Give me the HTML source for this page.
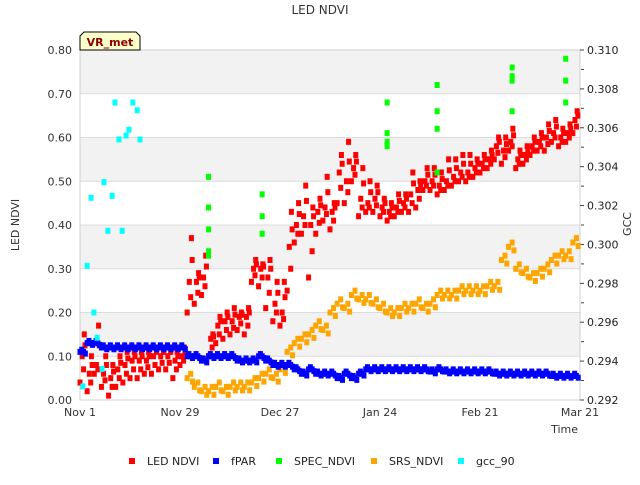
<!DOCTYPE html>
<html><head><meta charset="utf-8"><style>
body{margin:0;background:#fff;font-family:"Liberation Sans","DejaVu Sans",sans-serif}
svg text{font-family:"DejaVu Sans","Liberation Sans",sans-serif}
</style></head><body>
<svg id="chart" width="640" height="480" xmlns="http://www.w3.org/2000/svg"></svg>
<script>
const xTickLabels=["Nov 1","Nov 29","Dec 27","Jan 24","Feb 21","Mar 21"];
const xTickDays=[0,28,56,84,112,140];
const yLeftTicks=[0,0.1,0.2,0.3,0.4,0.5,0.6,0.7,0.8];
const yRightTicks=[0.292,0.294,0.296,0.298,0.300,0.302,0.304,0.306,0.308,0.310];
const ledDays=[0,2,4,6,8,10,12,14,16,18,20,22,24,26,28,30,32,34,36,38,40,42,44,46,48,50,52,54,56,58,60,62,64,66,68,70,72,74,76,78,80,82,84,86,88,90,92,94,96,98,100,102,104,106,108,110,112,114,116,118,120,122,124,126,128,130,132,134,136,138];
const ledLo=[0.04,0.02,0.06,0.03,0.01,0.03,0.04,0.05,0.05,0.06,0.06,0.07,0.07,0.05,0.08,0.20,0.22,0.24,0.10,0.13,0.14,0.15,0.16,0.15,0.27,0.26,0.21,0.18,0.17,0.25,0.36,0.38,0.28,0.38,0.41,0.39,0.45,0.45,0.50,0.42,0.43,0.43,0.42,0.41,0.42,0.43,0.43,0.44,0.48,0.48,0.47,0.48,0.49,0.50,0.50,0.51,0.52,0.53,0.55,0.54,0.57,0.53,0.54,0.56,0.57,0.57,0.59,0.58,0.59,0.61];
const ledMid=[0.10,0.06,0.08,0.06,0.05,0.07,0.08,0.09,0.09,0.09,0.10,0.10,0.10,0.09,0.10,0.27,0.27,0.28,0.14,0.17,0.18,0.18,0.19,0.19,0.30,0.30,0.28,0.22,0.20,0.35,0.40,0.42,0.40,0.43,0.44,0.43,0.52,0.50,0.53,0.46,0.45,0.46,0.44,0.43,0.44,0.45,0.47,0.48,0.50,0.50,0.49,0.50,0.51,0.52,0.52,0.53,0.54,0.55,0.58,0.57,0.59,0.55,0.56,0.58,0.59,0.60,0.61,0.60,0.61,0.64];
const ledHi=[0.15,0.10,0.17,0.10,0.08,0.10,0.11,0.11,0.11,0.11,0.12,0.12,0.12,0.11,0.12,0.37,0.29,0.33,0.15,0.19,0.20,0.21,0.20,0.21,0.32,0.31,0.32,0.27,0.27,0.43,0.45,0.49,0.44,0.46,0.51,0.45,0.56,0.59,0.56,0.53,0.50,0.49,0.46,0.45,0.47,0.47,0.52,0.50,0.53,0.53,0.52,0.55,0.55,0.56,0.56,0.55,0.56,0.57,0.60,0.60,0.62,0.57,0.58,0.60,0.61,0.63,0.64,0.62,0.63,0.66];
const fparVals=[0.11,0.13,0.13,0.12,0.12,0.12,0.12,0.12,0.12,0.12,0.12,0.12,0.12,0.12,0.12,0.10,0.10,0.09,0.10,0.10,0.10,0.10,0.09,0.09,0.09,0.10,0.09,0.08,0.08,0.08,0.07,0.06,0.07,0.06,0.06,0.06,0.05,0.06,0.05,0.06,0.07,0.07,0.07,0.07,0.07,0.07,0.07,0.07,0.07,0.065,0.07,0.065,0.065,0.065,0.065,0.065,0.065,0.065,0.06,0.06,0.06,0.06,0.06,0.06,0.06,0.06,0.055,0.055,0.055,0.055];
const srsVals=[null,null,null,null,null,null,null,null,null,null,null,null,null,null,null,0.05,0.03,0.02,0.02,0.03,0.02,0.03,0.03,0.03,0.04,0.05,0.06,0.05,0.07,0.11,0.13,0.14,0.15,0.17,0.16,0.20,0.22,0.21,0.24,0.23,0.23,0.22,0.21,0.20,0.20,0.21,0.21,0.22,0.21,0.22,0.24,0.24,0.24,0.25,0.25,0.25,0.25,0.26,0.26,0.32,0.35,0.30,0.29,0.28,0.29,0.30,0.32,0.33,0.33,0.36];
const specDays=[36,36,36,36,36,51,51,51,86,86,86,86,100,100,100,100,121,121,121,121,136,136,136];
const specVals=[0.51,0.44,0.39,0.34,0.33,0.47,0.42,0.38,0.68,0.61,0.59,0.58,0.72,0.66,0.62,0.52,0.76,0.74,0.73,0.66,0.78,0.73,0.68];
const gccDays=[0.8,2,3.1,3.9,4.8,6.2,6.7,7.8,9,9.8,10.9,11.8,12.9,13.7,14.8,16,16.8];
const gccVals=[0.2927,0.2989,0.3024,0.2965,0.2952,0.2936,0.3032,0.3007,0.3025,0.3073,0.3054,0.3007,0.3056,0.3059,0.3073,0.3069,0.3054];

const svg=document.getElementById('chart');
const NS='http://www.w3.org/2000/svg';
const X0=80,X1=580,Y0=50,Y1=400;
const xs=d=>X0+d/140*(X1-X0);
const yl=v=>Y1-v/0.8*(Y1-Y0);
const yr=v=>Y1-(v-0.292)/0.018*(Y1-Y0);
function mk(tag,attrs,parent){const e=document.createElementNS(NS,tag);for(const k in attrs)e.setAttribute(k,attrs[k]);(parent||svg).appendChild(e);return e;}
function txt(s,attrs,parent){const e=mk('text',attrs,parent);e.textContent=s;return e;}

for(let i=0;i<8;i++){
  const r=mk('rect',{x:X0,y:yl((i+1)*0.1),width:X1-X0,height:yl(i*0.1)-yl((i+1)*0.1),fill:(i%2===1)?'#f2f2f2':'#ffffff'});
  
  
}
yLeftTicks.forEach(v=>{
  const l=mk('line',{x1:X0,x2:X1,y1:yl(v),y2:yl(v),stroke:'#dcdcdc','stroke-width':1});
  
  
  const t=txt(v.toFixed(2),{x:72,y:yl(v)+4,'font-size':11,'text-anchor':'end',fill:'#333'});
  
  
});
const frame=mk('rect',{x:X0,y:Y0,width:X1-X0,height:Y1-Y0,fill:'none',stroke:'#d0d0d0'});


yRightTicks.forEach(v=>{
  const t=txt(v.toFixed(3),{x:587,y:yr(v)+4,'font-size':11,fill:'#222'});
  
  
  mk('line',{x1:X1,x2:X1+4,y1:yr(v),y2:yr(v),stroke:'#444'});
  if(v<0.310) mk('line',{x1:X1+1,x2:X1+4,y1:yr(v+0.001),y2:yr(v+0.001),stroke:'#444'});
});
xTickDays.forEach((d,i)=>{
  const t=txt(xTickLabels[i],{x:xs(d),y:416,'font-size':11,'text-anchor':'middle',fill:'#333'});
  
  
});
function sq(x,y,c,name){const r=mk('rect',{x:x-2.5,y:y-3,width:5,height:6,fill:c});}
ledDays.forEach((d,i)=>{
  [ledLo[i],ledMid[i],ledHi[i]].forEach((v,k)=>{sq(xs(d+k*0.6),yl(v),'#ff0000','led-ndvi-point');});
  const lo=(ledLo[i]+ledMid[i])/2,hi=(ledMid[i]+ledHi[i])/2;
  sq(xs(d+1),yl(lo),'#ff0000','led-ndvi-point');
  sq(xs(d+1.4),yl(hi),'#ff0000','led-ndvi-point');
});
ledDays.forEach((d,i)=>{
  if(srsVals[i]===null)return;
  sq(xs(d),yl(srsVals[i]),'#ffa500','srs-ndvi-point');
  sq(xs(d+1),yl(srsVals[i]+0.01),'#ffa500','srs-ndvi-point');
  sq(xs(d+1.5),yl(srsVals[i]-0.008),'#ffa500','srs-ndvi-point');
});
ledDays.forEach((d,i)=>{
  sq(xs(d),yl(fparVals[i]),'#0000ff','fpar-point');
  sq(xs(d+0.5),yl(fparVals[i]+0.005),'#0000ff','fpar-point');
  sq(xs(d+1),yl(fparVals[i]),'#0000ff','fpar-point');
  sq(xs(d+1.5),yl(fparVals[i]-0.004),'#0000ff','fpar-point');
});
specDays.forEach((d,i)=>sq(xs(d),yl(specVals[i]),'#00ff00','spec-ndvi-point'));
gccDays.forEach((d,i)=>sq(xs(d),yr(gccVals[i]),'#00ffff','gcc-90-point'));

let t=txt('LED NDVI',{x:320,y:14,'font-size':12,'text-anchor':'middle',fill:'#333'});
t=txt('LED NDVI',{x:19,y:225,'font-size':11,'text-anchor':'middle',fill:'#333',transform:'rotate(-90 19 225)'});
t=txt('GCC',{x:631,y:224,'font-size':11,'text-anchor':'middle',fill:'#333',transform:'rotate(-90 631 224)'});
t=txt('Time',{x:578,y:433,'font-size':11,'text-anchor':'end',fill:'#333'});
const tag=mk('path',{d:'M80,50 L80,36 L84,32 L136,32 L140,36 L140,50 Z',fill:'#ffffcc',stroke:'#000','stroke-width':1});

t=txt('VR_met',{x:110,y:46,'font-size':11,'font-weight':'bold','text-anchor':'middle',fill:'#8b0000'});
const legNames=['LED NDVI','fPAR','SPEC_NDVI','SRS_NDVI','gcc_90'];
const legColors=['#ff0000','#0000ff','#00ff00','#ffa500','#00ffff'];
const legX=[132,216,279,374,461];
legNames.forEach((n,i)=>{
  const g=mk('g',{});
  
  
  mk('rect',{x:legX[i]-3,y:458,width:6,height:6,fill:legColors[i]},g);
  txt(n,{x:legX[i]+15,y:465,'font-size':11,fill:'#222'},g);
});
</script>
</body></html>
